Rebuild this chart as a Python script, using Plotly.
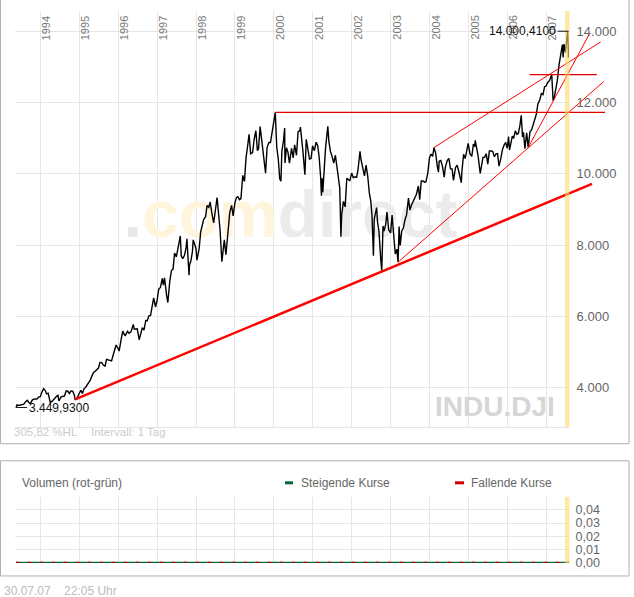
import plotly.graph_objects as go
import pandas as pd

W, H = 634, 597          # reference picture size (layout coordinates below are in these pixels)
FIG_H = 605              # rendered figure height (the capture squeezes it back to 597)


def px(x):
    return x / W


def py(y):
    return 1 - y / H


# ---------------- data (DJIA closes) ----------------
dates = [
    "1993-05-17", "1993-05-28", "1993-06-11", "1993-06-30", "1993-07-15", "1993-07-30",
    "1993-08-16", "1993-08-31", "1993-09-15", "1993-09-30", "1993-10-15", "1993-10-29",
    "1993-11-15", "1993-11-30", "1993-12-15", "1993-12-31",
    "1994-01-14", "1994-01-31", "1994-02-15", "1994-02-28", "1994-03-15", "1994-03-30",
    "1994-04-04", "1994-04-20", "1994-05-16", "1994-05-31", "1994-06-15", "1994-06-24",
    "1994-07-15", "1994-07-29", "1994-08-15", "1994-08-31", "1994-09-14", "1994-09-30",
    "1994-10-14", "1994-10-31", "1994-11-15", "1994-11-23", "1994-12-08", "1994-12-30",
    "1995-01-16", "1995-01-31", "1995-02-15", "1995-02-28", "1995-03-15", "1995-03-31",
    "1995-04-13", "1995-04-28", "1995-05-15", "1995-05-31", "1995-06-15", "1995-06-30",
    "1995-07-14", "1995-07-31", "1995-08-15", "1995-08-31", "1995-09-14", "1995-09-29",
    "1995-10-13", "1995-10-31", "1995-11-15", "1995-11-30", "1995-12-13", "1995-12-29",
    "1996-01-10", "1996-01-31", "1996-02-13", "1996-02-29", "1996-03-08", "1996-03-29",
    "1996-04-12", "1996-04-30", "1996-05-22", "1996-05-31", "1996-06-14", "1996-06-28",
    "1996-07-16", "1996-07-31", "1996-08-15", "1996-08-30", "1996-09-16", "1996-09-30",
    "1996-10-15", "1996-10-31", "1996-11-15", "1996-11-29", "1996-12-05", "1996-12-16",
    "1996-12-31",
    "1997-01-15", "1997-01-31", "1997-02-18", "1997-02-28", "1997-03-11", "1997-03-31",
    "1997-04-11", "1997-04-30", "1997-05-15", "1997-05-30", "1997-06-13", "1997-06-30",
    "1997-07-16", "1997-07-31", "1997-08-06", "1997-08-15", "1997-08-29", "1997-09-15",
    "1997-09-30", "1997-10-07", "1997-10-27", "1997-10-31", "1997-11-14", "1997-11-28",
    "1997-12-05", "1997-12-31",
    "1998-01-09", "1998-01-30", "1998-02-13", "1998-02-27", "1998-03-13", "1998-03-31",
    "1998-04-14", "1998-04-30", "1998-05-13", "1998-05-29", "1998-06-15", "1998-06-30",
    "1998-07-17", "1998-07-31", "1998-08-14", "1998-08-31", "1998-09-15", "1998-09-23",
    "1998-10-08", "1998-10-30", "1998-11-13", "1998-11-30", "1998-12-15", "1998-12-31",
    "1999-01-15", "1999-01-29", "1999-02-12", "1999-02-26", "1999-03-15", "1999-03-31",
    "1999-04-15", "1999-04-30", "1999-05-13", "1999-05-28", "1999-06-15", "1999-06-30",
    "1999-07-16", "1999-07-30", "1999-08-10", "1999-08-25", "1999-09-15", "1999-09-30",
    "1999-10-15", "1999-10-29", "1999-11-15", "1999-11-30", "1999-12-15", "1999-12-31",
    "2000-01-14", "2000-01-28", "2000-02-11", "2000-02-25", "2000-03-07", "2000-03-16",
    "2000-03-31", "2000-04-11", "2000-04-14", "2000-04-28", "2000-05-12", "2000-05-26",
    "2000-06-15", "2000-06-30", "2000-07-14", "2000-07-31", "2000-08-15", "2000-08-31",
    "2000-09-06", "2000-09-29", "2000-10-18", "2000-10-31", "2000-11-15", "2000-11-30",
    "2000-12-15", "2000-12-29",
    "2001-01-15", "2001-01-31", "2001-02-15", "2001-02-28", "2001-03-15", "2001-03-22",
    "2001-03-30", "2001-04-04", "2001-04-30", "2001-05-21", "2001-05-31", "2001-06-15",
    "2001-06-29", "2001-07-16", "2001-07-31", "2001-08-15", "2001-08-31", "2001-09-10",
    "2001-09-21", "2001-09-28", "2001-10-15", "2001-10-31", "2001-11-15", "2001-11-30",
    "2001-12-14", "2001-12-31",
    "2002-01-15", "2002-01-31", "2002-02-15", "2002-02-28", "2002-03-19", "2002-03-28",
    "2002-04-15", "2002-04-30", "2002-05-15", "2002-05-31", "2002-06-14", "2002-06-28",
    "2002-07-10", "2002-07-23", "2002-07-31", "2002-08-22", "2002-08-30", "2002-09-13",
    "2002-09-30", "2002-10-09", "2002-10-21", "2002-10-31", "2002-11-15", "2002-11-27",
    "2002-12-13", "2002-12-31",
    "2003-01-14", "2003-01-31", "2003-02-13", "2003-02-28", "2003-03-11", "2003-03-21",
    "2003-03-31", "2003-04-15", "2003-04-30", "2003-05-15", "2003-05-30", "2003-06-17",
    "2003-06-30", "2003-07-15", "2003-07-31", "2003-08-15", "2003-08-29", "2003-09-18",
    "2003-09-30", "2003-10-15", "2003-10-31", "2003-11-14", "2003-11-28", "2003-12-15",
    "2003-12-31",
    "2004-01-15", "2004-01-30", "2004-02-11", "2004-02-27", "2004-03-12", "2004-03-24",
    "2004-03-31", "2004-04-15", "2004-04-30", "2004-05-17", "2004-05-28", "2004-06-15",
    "2004-06-30", "2004-07-15", "2004-07-30", "2004-08-12", "2004-08-31", "2004-09-15",
    "2004-09-30", "2004-10-25", "2004-10-29", "2004-11-15", "2004-11-30", "2004-12-15",
    "2004-12-28",
    "2005-01-14", "2005-01-31", "2005-02-15", "2005-02-28", "2005-03-04", "2005-03-31",
    "2005-04-20", "2005-04-29", "2005-05-16", "2005-05-31", "2005-06-15", "2005-06-30",
    "2005-07-15", "2005-07-29", "2005-08-15", "2005-08-31", "2005-09-15", "2005-09-30",
    "2005-10-13", "2005-10-31", "2005-11-15", "2005-11-30", "2005-12-15", "2005-12-30",
    "2006-01-11", "2006-01-20", "2006-01-31", "2006-02-15", "2006-02-28", "2006-03-15",
    "2006-03-31", "2006-04-13", "2006-04-28", "2006-05-10", "2006-05-22", "2006-05-31",
    "2006-06-13", "2006-06-30", "2006-07-14", "2006-07-31", "2006-08-15", "2006-08-31",
    "2006-09-15", "2006-09-29", "2006-10-13", "2006-10-31", "2006-11-15", "2006-11-30",
    "2006-12-15", "2006-12-29",
    "2007-01-12", "2007-01-31", "2007-02-20", "2007-02-27", "2007-03-05", "2007-03-15",
    "2007-03-30", "2007-04-13", "2007-04-30", "2007-05-15", "2007-05-31", "2007-06-07",
    "2007-06-15", "2007-06-29", "2007-07-13", "2007-07-19", "2007-07-26", "2007-07-27",
    "2007-07-30",
]
closes = [
    3449.93, 3527, 3505, 3516, 3530, 3540, 3612, 3651, 3590, 3555, 3650, 3681,
    3690, 3684, 3740, 3754,
    3870, 3978, 3930, 3832, 3850, 3636, 3593, 3620, 3720, 3758, 3790, 3636,
    3750, 3765, 3770, 3913, 3910, 3843, 3910, 3908, 3810, 3675, 3686, 3834,
    3930, 3844, 3980, 4011, 4070, 4158, 4208, 4321, 4430, 4465, 4505, 4556,
    4710, 4708, 4640, 4611, 4800, 4789, 4790, 4756, 4920, 5075, 5200, 5117,
    5032, 5395, 5590, 5486, 5470, 5587, 5530, 5569, 5778, 5643, 5650, 5655,
    5350, 5529, 5690, 5616, 5890, 5882, 6020, 6029, 6350, 6522, 6437, 6268,
    6448,
    6762, 6813, 7067, 6878, 7085, 6584, 6392, 7009, 7290, 7331, 7782, 7673,
    7976, 8223, 8259, 7695, 7622, 7722, 7945, 8178, 7161, 7442, 7572, 7823,
    8149, 7908,
    7580, 7907, 8370, 8546, 8719, 8800, 9110, 9063, 9211, 8900, 8627, 8952,
    9338, 8883, 8425, 7539, 7945, 8154, 7731, 8592, 8919, 9117, 8823, 9181,
    9340, 9359, 9274, 9307, 9959, 9786, 10462, 10789, 11107, 10560, 10594, 10971,
    11210, 10655, 10707, 11326, 10802, 10337, 10019, 10729, 10882, 10878, 11160, 11497,
    11722.98, 10738, 10425, 9862, 9796, 10630, 10922, 11287, 10306, 10734, 10610, 10300,
    10714, 10448, 10812, 10522, 11176, 11215, 11310, 10651, 9976, 10971, 10707, 10415,
    10434, 10787,
    10650, 10887, 10795, 10495, 9900, 9389, 9879, 9485, 10735, 11337, 10912, 10624,
    10502, 10300, 10523, 10210, 9950, 9606, 8236, 8848, 9230, 9075, 9872, 9852,
    9812, 10022,
    9891, 9920, 9903, 10106, 10635, 10404, 10150, 9946, 10243, 9925, 9474, 9243,
    8814, 7702, 8737, 9054, 8664, 8380, 7592, 7286, 8538, 8397, 8580, 8931,
    8433, 8342,
    8842, 8054, 7749, 7891, 7524, 8522, 7992, 8402, 8480, 8713, 8850, 9323,
    8985, 9128, 9234, 9321, 9416, 9659, 9275, 9803, 9801, 9768, 9782, 10022,
    10454,
    10553, 10488, 10737, 10584, 10240, 10048, 10358, 10378, 10226, 9906, 10188, 10379,
    10435, 10140, 10140, 9815, 10174, 10244, 10080, 9750, 10027, 10550, 10428, 10691,
    10854,
    10558, 10490, 10837, 10766, 10941, 10504, 10012, 10193, 10464, 10467, 10566, 10275,
    10640, 10641, 10634, 10482, 10558, 10569, 10217, 10440, 10686, 10806, 10881, 10718,
    11043, 10668, 10865, 11058, 10993, 11209, 11109, 11138, 11367, 11642, 11033, 11168,
    10706, 11150, 10739, 11186, 11231, 11381, 11560, 11679, 11961, 12081, 12251, 12222,
    12445, 12463,
    12556, 12622, 12786, 12216, 12050, 12133, 12354, 12613, 13063, 13383, 13628, 13267,
    13640, 13409, 13908, 14000.41, 13473, 13265, 13358,
]

# trend lines drawn on the chart: (start/end dates, start/end values)
trend_support_dates = ["1994-11-23", "2008-03-04"]
trend_support_values = [3675, 9720]
trend_lower_dates = ["2003-03-11", "2008-06-22"]
trend_lower_values = [7524, 12590]
trend_upper_dates = ["2004-02-11", "2008-05-25"]
trend_upper_values = [10738, 13702]
trend_steep_dates = ["2006-07-14", "2008-02-05"]
trend_steep_values = [10739, 13907]
hline_2000_dates = ["2000-01-14", "2008-07-04"]
hline_2000_values = [11722.98, 11722.98]
hline_2007_dates = ["2006-07-27", "2008-04-18"]
hline_2007_values = [12786, 12786]

years = list(range(1994, 2008))
price_ticks = [4000, 6000, 8000, 10000, 12000, 14000]
volume_ticks = [0, 0.01, 0.02, 0.03, 0.04]
volume_dates = ["1993-05-17", "2007-07-30"]
volume_rising = [0, 0]
volume_falling = [0, 0]

# ---------------- layout constants ----------------
X_RANGE = ["1993-05-08", "2007-08-01"]
Y_RANGE = [2910, 14567]
PLOT_L, PLOT_R = 15, 569
PLOT_T, PLOT_B = 11, 426
VOL_T, VOL_B = 496, 562
EXT_R = 612
GRID = "#e6e6e6"
FONT = "Liberation Sans, Arial, sans-serif"


def de(v, dec):
    s = f"{v:,.{dec}f}"
    return s.replace(",", "X").replace(".", ",").replace("X", ".")


t0 = pd.Timestamp(X_RANGE[0])
t1 = pd.Timestamp(X_RANGE[1])
t_ext = t0 + (t1 - t0) * ((EXT_R - PLOT_L) / (PLOT_R - PLOT_L))

imax = max(range(len(closes)), key=lambda i: closes[i])
imin = min(range(len(closes)), key=lambda i: closes[i])
vmax, vmin = closes[imax], closes[imin]
hl_pct = (vmax - vmin) / vmin * 100

fig = go.Figure()

# watermark below the data
fig.add_trace(go.Scatter(
    x=["2000-06-05"], y=[8700], mode="text",
    text=["<span style='color:#e9e9e9'>.</span><span style='color:#fff4dc'>com</span>"
          "<span style='color:#ebebeb'>direct</span>"],
    textfont=dict(family=FONT, size=66, weight="bold"),
    textposition="middle center", hoverinfo="skip", showlegend=False,
    xaxis="x", yaxis="y",
))

fig.add_trace(go.Scatter(
    x=dates, y=closes, mode="lines", line=dict(color="black", width=1.4),
    hoverinfo="skip", showlegend=False, xaxis="x", yaxis="y",
))

# volume panel
fig.add_trace(go.Scatter(
    x=volume_dates, y=volume_rising, mode="lines",
    line=dict(color="#006633", width=1.5), showlegend=False, hoverinfo="skip",
    xaxis="x2", yaxis="y2",
))
fig.add_trace(go.Scatter(
    x=volume_dates, y=volume_falling, mode="lines",
    line=dict(color="#cc0000", width=1.5, dash="3px,9px"), showlegend=False, hoverinfo="skip",
    xaxis="x2", yaxis="y2",
))

# trend lines on an extended overlay axis with identical scale
for d, v, w, c in [
    (trend_support_dates, trend_support_values, 2.5, "#ff0000"),
    (trend_lower_dates, trend_lower_values, 1, "#ff0000"),
    (trend_upper_dates, trend_upper_values, 1, "#ff0000"),
    (trend_steep_dates, trend_steep_values, 1, "#ff0000"),
    (hline_2000_dates, hline_2000_values, 1.3, "#e00000"),
    (hline_2007_dates, hline_2007_values, 1.3, "#e00000"),
]:
    fig.add_trace(go.Scatter(
        x=d, y=v, mode="lines", line=dict(color=c, width=w),
        hoverinfo="skip", showlegend=False, xaxis="x3", yaxis="y3",
    ))

annotations = []
for yr in years:
    annotations.append(dict(
        x=f"{yr}-01-01", y=py(PLOT_T + 3), xref="x", yref="paper",
        text=str(yr), textangle=-90, showarrow=False,
        xanchor="center", yanchor="top", xshift=6,
        font=dict(family=FONT, size=11, color="#7a7a7a"),
    ))

annotations += [
    dict(x=dates[imax], y=vmax, xref="x", yref="y", text=de(vmax, 4),
         showarrow=False, xanchor="right", yanchor="middle", xshift=-10,
         font=dict(family=FONT, size=12, color="#111")),
    dict(x=dates[imin], y=vmin, xref="x", yref="y", text=de(vmin, 4),
         showarrow=False, xanchor="left", yanchor="middle", xshift=11, yshift=-1,
         font=dict(family=FONT, size=12, color="#111")),
    dict(x=px(557), y=py(406), xref="paper", yref="paper", text="<b>INDU.DJI</b>",
         showarrow=False, xanchor="right", yanchor="middle",
         font=dict(family=FONT, size=28, color="#d6d6d6")),
    dict(x=px(12), y=py(431), xref="paper", yref="paper", text=de(hl_pct, 2) + " %HL",
         showarrow=False, xanchor="left", yanchor="middle",
         font=dict(family=FONT, size=11.5, color="#cccccc")),
    dict(x=px(89), y=py(431), xref="paper", yref="paper", text="Intervall: 1 Tag",
         showarrow=False, xanchor="left", yanchor="middle",
         font=dict(family=FONT, size=11.5, color="#cccccc")),
    dict(x=px(20), y=py(482), xref="paper", yref="paper", text="Volumen (rot-grün)",
         showarrow=False, xanchor="left", yanchor="middle",
         font=dict(family=FONT, size=12, color="#666666")),
    dict(x=px(299), y=py(482), xref="paper", yref="paper", text="Steigende Kurse",
         showarrow=False, xanchor="left", yanchor="middle",
         font=dict(family=FONT, size=12, color="#666666")),
    dict(x=px(469), y=py(482), xref="paper", yref="paper", text="Fallende Kurse",
         showarrow=False, xanchor="left", yanchor="middle",
         font=dict(family=FONT, size=12, color="#666666")),
    dict(x=px(2), y=py(590), xref="paper", yref="paper",
         text=pd.Timestamp(dates[-1]).strftime("%d.%m.%y") + "    22:05 Uhr",
         showarrow=False, xanchor="left", yanchor="middle",
         font=dict(family=FONT, size=12, color="#bbbbbb")),
]

shapes = [
    # panel frames
    dict(type="rect", xref="paper", yref="paper", x0=px(0.5), x1=px(629), y0=py(-2), y1=py(443),
         line=dict(color="#b0b0b0", width=1), layer="below"),
    dict(type="rect", xref="paper", yref="paper", x0=px(0.5), x1=px(629), y0=py(460), y1=py(575),
         line=dict(color="#b0b0b0", width=1), layer="below"),
    # today band
    dict(type="rect", xref="paper", yref="paper", x0=px(565), x1=px(569.5), y0=py(PLOT_B), y1=py(PLOT_T),
         fillcolor="#ffd966", opacity=0.6, line=dict(width=0), layer="above"),
    dict(type="rect", xref="paper", yref="paper", x0=px(565), x1=px(569.5), y0=py(VOL_B), y1=py(VOL_T),
         fillcolor="#ffd966", opacity=0.6, line=dict(width=0), layer="above"),
    # max / min markers
    dict(type="line", xref="x", yref="y", xsizemode="pixel", xanchor=dates[imax],
         x0=-10, x1=1, y0=vmax, y1=vmax, line=dict(color="#111", width=1)),
    dict(type="line", xref="x", yref="y", xsizemode="pixel", xanchor=dates[imin],
         x0=0, x1=11, y0=vmin, y1=vmin, line=dict(color="#111", width=1)),
    # volume legend keys
    dict(type="rect", xref="paper", yref="paper", x0=px(285), x1=px(293), y0=py(483.5), y1=py(480.5),
         fillcolor="#006633", line=dict(width=0)),
    dict(type="rect", xref="paper", yref="paper", x0=px(455), x1=px(464), y0=py(483.5), y1=py(480.5),
         fillcolor="#cc0000", line=dict(width=0)),
]

xcommon = dict(type="date", range=X_RANGE, domain=[px(PLOT_L), px(PLOT_R)],
               tick0="1994-01-01", dtick="M12", showticklabels=False, ticks="",
               showgrid=True, gridcolor=GRID, gridwidth=1, zeroline=False, fixedrange=True)

fig.update_layout(
    width=W, height=FIG_H, autosize=False,
    margin=dict(l=0, r=0, t=0, b=0, pad=0),
    paper_bgcolor="white", plot_bgcolor="rgba(0,0,0,0)",
    separators=",.",
    font=dict(family=FONT, color="#666666"),
    showlegend=False,
    xaxis=dict(**xcommon, anchor="y", showline=True, linecolor=GRID, linewidth=1),
    yaxis=dict(range=Y_RANGE, domain=[py(PLOT_B), py(PLOT_T)], side="right", anchor="x",
               tickvals=price_ticks, tickformat=",.0f", ticks="outside", ticklen=4,
               tickcolor="rgba(0,0,0,0)", showgrid=True, gridcolor=GRID, zeroline=False,
               tickfont=dict(size=13, color="#666666"), fixedrange=True),
    xaxis2=dict(**xcommon, anchor="y2", matches="x"),
    yaxis2=dict(range=[-0.0003, 0.0499], domain=[py(VOL_B), py(VOL_T)], side="right", anchor="x2",
                tickvals=volume_ticks, tickformat=".2f", ticks="outside", ticklen=3,
                tickcolor="rgba(0,0,0,0)", showgrid=True, gridcolor=GRID, zeroline=False,
                tickfont=dict(size=12.5, color="#666666"), fixedrange=True),
    xaxis3=dict(type="date", range=[t0, t_ext], domain=[px(PLOT_L), px(EXT_R)], anchor="y3",
                visible=False, showgrid=False, fixedrange=True),
    yaxis3=dict(range=Y_RANGE, domain=[py(PLOT_B), py(PLOT_T)], anchor="x3",
                visible=False, showgrid=False, fixedrange=True),
    annotations=annotations,
    shapes=shapes,
)

fig.write_html(
    "out.html",
    config={"displayModeBar": False},
    post_script=(
        "document.documentElement.style.margin='0';"
        "document.documentElement.style.overflow='hidden';"
        "document.body.style.margin='0';"
        "document.body.style.overflow='hidden';"
        "var gd=document.getElementById('{plot_id}');"
        "gd.style.position='fixed';gd.style.left='0px';gd.style.top='0px';"
    ),
)
